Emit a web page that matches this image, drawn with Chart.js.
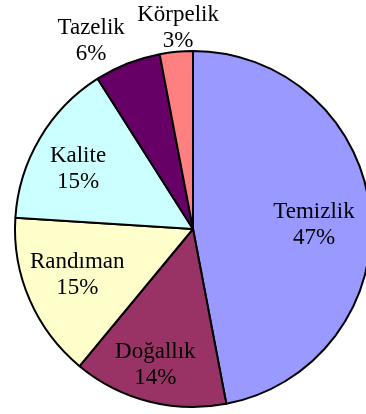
<!DOCTYPE html>
<html>
<head>
<meta charset="utf-8">
<script src="https://cdn.jsdelivr.net/npm/chart.js@4/dist/chart.umd.min.js"></script>
<style>
  html, body { margin: 0; padding: 0; background: #fff; overflow: hidden; }
  #wrap { width: 386px; height: 414px; }
</style>
</head>
<body>
<div id="wrap"><canvas id="pie" width="386" height="414"></canvas></div>
<script>
// shares of each quality criterion (percent)
const categories = ['Temizlik', 'Doğallık', 'Randıman', 'Kalite', 'Tazelik', 'Körpelik']
const shares = [47, 14, 15, 15, 6, 3]
const sliceColors = ['#9999FF', '#993366', '#FFFFCC', '#CCFFFF', '#660066', '#FF8080']

// how far out each label sits, as a fraction of the radius
const labelDistance = [0.68, 0.79, 0.70, 0.73, 1.20, 1.13]
const labelAngleShift = [0.06, 0.02, 0.03, -0.05, -0.12, 0.02]

const sliceLabels = {
    id: 'sliceLabels',
    afterDatasetsDraw(chart) {
        const ctx = chart.ctx
        const meta = chart.getDatasetMeta(0)
        ctx.save()
        ctx.font = '23px "Liberation Serif", "Times New Roman", serif'
        ctx.fillStyle = '#000'
        ctx.textAlign = 'center'
        ctx.textBaseline = 'middle'
        meta.data.forEach(function (arc, i) {
            let { x, y, startAngle, endAngle, outerRadius } = arc.getProps(['x', 'y', 'startAngle', 'endAngle', 'outerRadius'], true)
            let mid = (startAngle + endAngle) / 2 + labelAngleShift[i]
            let r = outerRadius * labelDistance[i]
            let lx = x + Math.cos(mid) * r
            let ly = y + Math.sin(mid) * r
            ctx.fillText(categories[i], lx, ly - 13)
            ctx.fillText(shares[i] + '%', lx, ly + 13)
        })
        ctx.restore()
    }
}

new Chart(document.getElementById('pie'), {
    type: 'pie',
    data: {
        labels: categories,
        datasets: [{
            data: shares,
            backgroundColor: sliceColors,
            borderColor: '#000',
            borderWidth: 2,
            hoverOffset: 0
        }]
    },
    options: {
        responsive: false,
        animation: false,
        devicePixelRatio: 1,
        layout: { padding: { top: 50, bottom: 6, left: 0, right: 0 } },
        plugins: {
            legend: { display: false },
            tooltip: { enabled: false }
        }
    },
    plugins: [sliceLabels]
})
</script>
</body>
</html>
